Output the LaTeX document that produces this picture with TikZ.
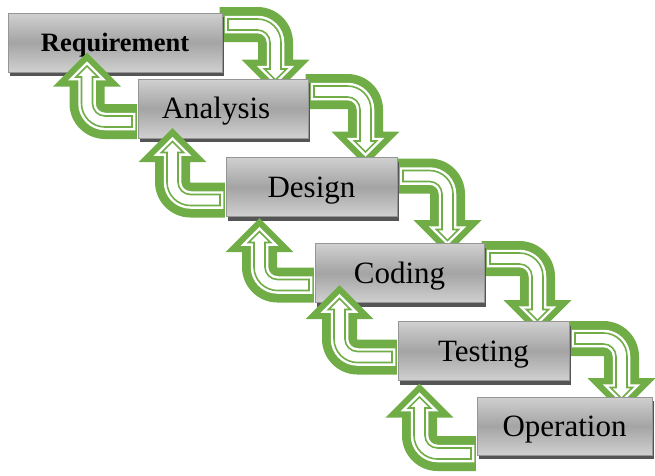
\documentclass[tikz,border=0pt]{standalone}
\usepackage{fontspec}
\setmainfont{Liberation Serif}
\usetikzlibrary{shadows, backgrounds}

\definecolor{arrowgreen}{RGB}{112,173,71}
\definecolor{boxlight}{RGB}{208,208,208}
\definecolor{boxdark}{RGB}{164,164,164}
\definecolor{boxedge}{RGB}{150,150,150}
\definecolor{boxshadow}{RGB}{85,85,85}

\newcommand{\bandw}{17.5}
\newcommand{\bendr}{18}
\newcommand{\headl}{34}

% #1 reach, #2 drop, #3 band inset, #4 head inset, #5 start
\newcommand{\arrowpath}[5]{%
	({#5},{\bandw-#3}) -- ({#1-\bendr},{\bandw-#3})
	arc[start angle=90, end angle=0, radius={\bendr+\bandw-#3}]
	-- ({#1+\bandw-#3},{-#2-#4})
	-- ({#1+\headl-2.414*#4},{-#2-#4})
	-- ({#1},{-#2-\headl+1.414*#4})
	-- ({#1-\headl+2.414*#4},{-#2-#4})
	-- ({#1-\bandw+#3},{-#2-#4})
	-- ({#1-\bandw+#3},{-\bendr})
	arc[start angle=0, end angle=90, radius={\bendr-\bandw+#3}]
	-- ({#5},{-\bandw+#3}) -- cycle}

% #1 origin, #2 reach, #3 drop, #4 turn, #5 start
\newcommand{\stairarrow}[5]{%
	\begin{scope}[shift={#1}, rotate=#4]
		\fill[arrowgreen] \arrowpath{#2}{#3}{0}{0}{#5};
		\filldraw[fill=white, draw=white, line width=6.5pt] \arrowpath{#2}{#3}{12}{9.5}{5.5};
		\draw[arrowgreen, line width=1.6pt] \arrowpath{#2}{#3}{12}{9.5}{5.5};
	\end{scope}}

\begin{document}
\begin{tikzpicture}[x=1pt, y=1pt,
		stage/.style={draw=boxedge, line width=1pt, inner sep=0pt,
			minimum width=171pt, minimum height=59pt,
			top color=boxlight, bottom color=boxlight, middle color=boxdark,
			drop shadow={shadow xshift=2pt, shadow yshift=-4pt, fill=boxshadow, opacity=1},
			font=\fontsize{31}{31}\selectfont, text height=20.5pt, text depth=0pt}]
		
		\useasboundingbox (0,0) rectangle (655,-475);
		
		\node[stage, minimum width=214pt, font=\bfseries\fontsize{26.5}{26.5}\selectfont,
			text height=17.5pt] (req) at (115,-42.5) {Requirement};
		\node[stage, minimum width=170pt] (ana) at (223,-108.5) {Analysis\hspace*{14pt}};
		\node[stage] (des) at (311.5,-187) {Design};
		\node[stage, minimum width=169pt] (cod) at (399.5,-273) {Coding};
		\node[stage] (tes) at (483.5,-351) {Testing};
		\node[stage, minimum width=175pt, minimum height=58pt] (ope) at (564.5,-426) {Operation};
		
		%forward
		\begin{scope}[on background layer]
			\stairarrow{([yshift=-12pt]req.north east)}{53}{35}{0}{-3}
			\stairarrow{([yshift=-13pt]ana.north east)}{57}{40}{0}{-3}
			\stairarrow{([yshift=-19pt]des.north east)}{50}{44}{0}{-3}
			\stairarrow{([yshift=-15.5pt]cod.north east)}{53}{41.5}{0}{-3}
			\stairarrow{([yshift=-17.5pt]tes.north east)}{52}{39.5}{0}{-3}
		\end{scope}
		
		%back
		\stairarrow{([yshift=17pt]ana.south west)}{50.5}{35}{180}{0.6}
		\stairarrow{([yshift=17pt]des.south west)}{53}{38}{180}{0.6}
		\stairarrow{([yshift=18pt]cod.south west)}{55}{33}{180}{0.6}
		\stairarrow{([yshift=24pt]tes.south west)}{58}{38}{180}{0.6}
		\stairarrow{([yshift=2pt]ope.south west)}{57}{36}{180}{0.6}
	\end{tikzpicture}
\end{document}
